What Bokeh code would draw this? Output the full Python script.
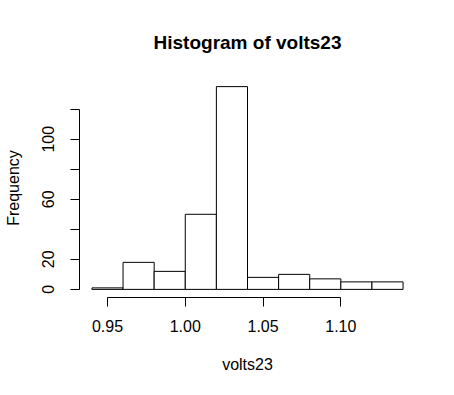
from bokeh.plotting import figure
from bokeh.models import Range1d, FixedTicker
from bokeh.embed import file_html
from bokeh.resources import INLINE

# Histogram data
breaks = [0.94, 0.96, 0.98, 1.00, 1.02, 1.04, 1.06, 1.08, 1.10, 1.12, 1.14]
counts = [1, 18, 12, 50, 135, 8, 10, 7, 5, 5]
x_ticks = [0.95, 1.00, 1.05, 1.10]
y_ticks = [0, 20, 40, 60, 80, 100, 120]
y_hidden = [40, 80, 120]

FONT = "Liberation Sans"

p = figure(frame_width=336, frame_height=219, output_backend="svg", toolbar_location=None,
           x_range=Range1d(0.932, 1.148), y_range=Range1d(-5.4, 140.4),
           min_border_left=79, min_border_right=39, min_border_top=78,
           min_border_bottom=98, title="Histogram of volts23")

p.quad(left=breaks[:-1], right=breaks[1:], bottom=0, top=counts,
       fill_color="white", line_color="black", line_width=1)

p.xgrid.visible = False
p.ygrid.visible = False
p.outline_line_color = None
p.background_fill_color = "white"
p.border_fill_color = "white"

p.title.align = "center"
p.title.text_font = FONT
p.title.text_font_size = "19px"
p.title.text_font_style = "bold"
p.title.text_color = "black"
p.title.standoff = 52

for ax in (p.xaxis[0], p.yaxis[0]):
    ax.axis_line_color = "black"
    ax.major_tick_line_color = "black"
    ax.minor_tick_line_color = None
    ax.major_tick_out = 9
    ax.major_tick_in = 0
    ax.major_label_text_font = FONT
    ax.major_label_text_font_size = "16px"
    ax.major_label_text_color = "black"
    ax.axis_label_text_font = FONT
    ax.axis_label_text_font_size = "16px"
    ax.axis_label_text_font_style = "normal"
    ax.axis_label_text_color = "black"

xa = p.xaxis[0]
xa.ticker = FixedTicker(ticks=x_ticks)
xa.bounds = (x_ticks[0], x_ticks[-1])
xa.major_label_overrides = {t: f"{t:.2f}" for t in x_ticks}
xa.major_label_standoff = 13
xa.axis_label = "volts23"
xa.axis_label_standoff = 21

ya = p.yaxis[0]
ya.ticker = FixedTicker(ticks=y_ticks)
ya.bounds = (y_ticks[0], y_ticks[-1])
ya.major_label_overrides = {t: "" for t in y_hidden}
ya.major_label_orientation = "vertical"
ya.major_label_standoff = 16
ya.axis_label = "Frequency"
ya.axis_label_standoff = 18

open("out.html", "w").write(file_html(p, INLINE))
